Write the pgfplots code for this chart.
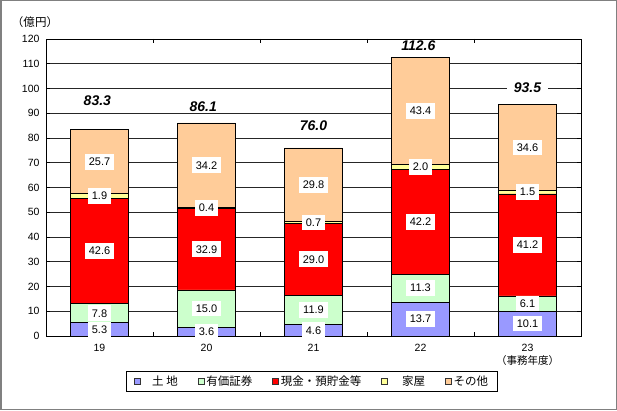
\documentclass[border=0pt]{standalone}
\usepackage{fontspec}
\setmainfont{Liberation Sans}
\newfontfamily\jp{Noto Sans CJK JP}
\usepackage{pgfplots}
\usepackage{pgfplotstable}
\pgfplotsset{compat=1.18}
\pgfkeys{/pgf/number format/assume math mode=true}

\definecolor{cTochi}{RGB}{153,153,255}
\definecolor{cYuka}{RGB}{204,255,204}
\definecolor{cGenkin}{RGB}{255,0,0}
\definecolor{cKaoku}{RGB}{255,255,153}
\definecolor{cSonota}{RGB}{255,204,153}

% 億円, 事務年度 19-23
\pgfplotstableread{
x tochi yuka genkin kaoku sonota
0 5.3 7.8 42.6 1.9 25.7
1 3.6 15.0 32.9 0.4 34.2
2 4.6 11.9 29.0 0.7 29.8
3 13.7 11.3 42.2 2.0 43.4
4 10.1 6.1 41.2 1.5 34.6
}\assets
% label positions: middle of each segment
\pgfplotstablecreatecol[expr={\thisrow{tochi}/2}]{mtochi}\assets
\pgfplotstablecreatecol[expr={\thisrow{tochi}+\thisrow{yuka}/2}]{myuka}\assets
\pgfplotstablecreatecol[expr={\thisrow{tochi}+\thisrow{yuka}+\thisrow{genkin}/2}]{mgenkin}\assets
\pgfplotstablecreatecol[expr={\thisrow{tochi}+\thisrow{yuka}+\thisrow{genkin}+\thisrow{kaoku}/2}]{mkaoku}\assets
\pgfplotstablecreatecol[expr={\thisrow{tochi}+\thisrow{yuka}+\thisrow{genkin}+\thisrow{kaoku}+\thisrow{sonota}/2}]{msonota}\assets

\pgfplotsset{
  frame/.style={at={(46pt,74pt)}, anchor=south west,
    scale only axis, width=535pt, height=297pt,
    xmin=-0.5, xmax=4.5, ymin=0, ymax=120},
  lbl/.style={draw=none, mark=none, point meta=explicit,
    nodes near coords={\pgfmathprintnumber[fixed,fixed zerofill,precision=1,assume math mode=true]{\pgfplotspointmeta}},
    every node near coord/.append style={anchor=center, fill=white,
        text=black, font=\fontsize{11}{12}\selectfont,
        inner xsep=4pt, inner ysep=4pt}},
}

\begin{document}
\begin{tikzpicture}
\useasboundingbox (0pt,0pt) rectangle (617pt,410pt);
\draw[black!50, line width=1.5pt] (0.75pt,0.75pt) rectangle (616.25pt,409.25pt);
\begin{axis}[
    frame,
    ybar stacked, bar width=0.54,
    ytick={0,10,...,120},
    ymajorgrids, major grid style={black!85, line width=0.75pt},
    axis line style={black, line width=0.9pt},
    tick style={black, line width=0.6pt},
    major tick length=4pt,
    y tick label style={xshift=-3pt},
    xtick={0.5,1.5,2.5,3.5}, xticklabels={},
    extra x ticks={0,1,2,3,4},
    extra x tick labels={19,20,21,22,{23\\{\jp （事務年度）}}},
    extra x tick style={major tick length=0pt, grid=none,
        tick label style={align=center, yshift=-5pt}},
    tick label style={font=\fontsize{10.5}{13}\selectfont},
    every axis plot/.append style={draw=black, line width=0.8pt},
    legend columns=5,
    legend style={at={(0.497,-0.153)}, anchor=center,
        draw=black, line width=0.8pt,
        font=\jp\fontsize{11.5}{13}\selectfont,
        inner xsep=7pt, inner ysep=2.5pt,
        /tikz/every even column/.append style={column sep=18pt}},
    legend image code/.code={\draw[#1, draw=black!80, line width=0.6pt] (0pt,-3pt) rectangle (6pt,3pt);},
]
\addplot[fill=cTochi] table[x=x, y=tochi] {\assets};
\addlegendentry{\hspace{10pt}土 地}
\addplot[fill=cYuka] table[x=x, y=yuka] {\assets};
\addlegendentry{有価証券}
\addplot[fill=cGenkin] table[x=x, y=genkin] {\assets};
\addlegendentry{現金・預貯金等}
\addplot[fill=cKaoku] table[x=x, y=kaoku] {\assets};
\addlegendentry{\hspace{12pt}家屋}
\addplot[fill=cSonota] table[x=x, y=sonota] {\assets};
\addlegendentry{その他}
\end{axis}

\begin{axis}[frame, hide axis, clip=false]
\addplot[lbl] table[x=x, y=mtochi, meta=tochi] {\assets};
\addplot[lbl] table[x=x, y=myuka, meta=yuka] {\assets};
\addplot[lbl] table[x=x, y=mgenkin, meta=genkin] {\assets};
\addplot[lbl] table[x=x, y=mkaoku, meta=kaoku] {\assets};
\addplot[lbl] table[x=x, y=msonota, meta=sonota] {\assets};
\begin{scope}[every node/.style={fill=white, inner xsep=7pt, inner ysep=1pt,
        font=\bfseries\itshape\fontsize{14}{16}\selectfont}]
\node at (axis cs:-0.02,95.0) {83.3};
\node at (axis cs:0.97,92.5) {86.1};
\node at (axis cs:2.0,84.8) {76.0};
\node at (axis cs:2.98,117.2) {112.6};
\node at (axis cs:4.0,100.2) {93.5};
\end{scope}
\end{axis}
\node[font=\jp\fontsize{11.5}{13}\selectfont] at (35pt,388pt) {（億円）};
\end{tikzpicture}
\end{document}
